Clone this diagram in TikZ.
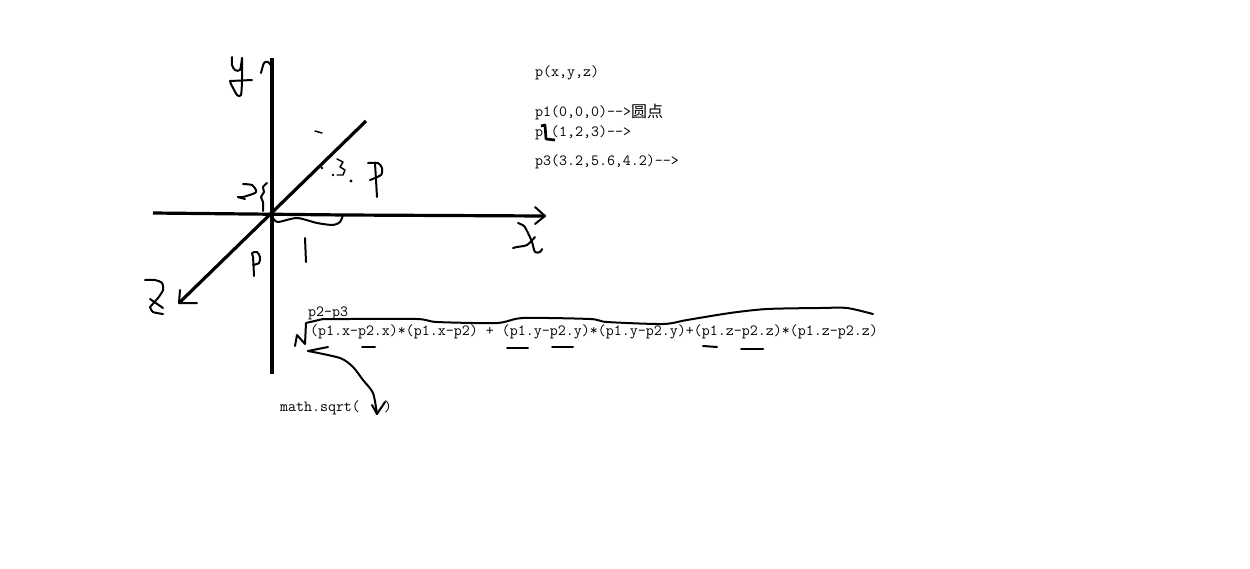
\documentclass[tikz,border=0pt]{standalone}
\usepackage{fontspec}
\newfontfamily\cjk{Noto Sans CJK SC}
\tikzset{
  txt/.style={anchor=base west,inner sep=0pt,outer sep=0pt,font=\fontsize{11.65}{13}\selectfont\ttfamily,text=black},
  axisline/.style={draw=black,line width=2.4pt},
  hand/.style={draw=black,line width=1.5pt,line join=round,line cap=round},
  fine/.style={draw=black,line width=1.1pt,line join=round,line cap=round},
  wob/.style={smooth,tension=0.45},
}
\begin{document}
\begin{tikzpicture}[x=0.75pt,y=-0.75pt]
\useasboundingbox[fill=white] (0,0) rectangle (1250,568);
% axes
\coordinate (ytop) at (272,58);
\coordinate (ybot) at (272,374);
\coordinate (xl) at (153,213);
\coordinate (xm) at (345,215);
\coordinate (xr) at (545,216);
\coordinate (ztop) at (366,121);
\coordinate (ztip) at (179,303);
\draw[axisline] (ytop) -- (ybot);
\draw[axisline] (xl) -- (xm) -- (xr);
\draw[axisline] (ztop) -- (ztip);
% arrowheads of axes
\draw[hand] plot[wob] coordinates {(261,73) (264,63) (268,62) (273,68)};
\draw[hand] (535,207) -- (xr) -- (535,224);
\draw[hand] (180,290) -- (ztip) -- (197,303);
% letter y
\draw[hand] plot[wob] coordinates {(232,57) (232,65) (235,70) (240,70) (242,58)};
\draw[hand] plot[wob] coordinates {(242,58) (242,80) (241,95) (237,95) (231,84)};
\draw[hand] (231,84) -- (230,81) -- (252,80);
% letter x
\draw[hand] plot[wob] coordinates {(518,223) (524,226) (528,233) (532,242) (535,252) (540,252) (542,249)};
\draw[hand] plot[wob] coordinates {(513,248) (517,247) (527,245) (535,237)};
% letter z
\draw[hand] plot[wob] coordinates {(145,280) (155,280) (162,283) (163,290) (158,298) (150,307)};
\draw[hand] plot[wob] coordinates {(150,307) (153,312) (163,314)};
\draw[hand] (150,299) -- (163,308);
% braces and marks on axes
\draw[hand] plot[wob] coordinates {(273,218) (278,222) (297,218) (317,223) (333,225) (340,222) (343,215)};
\draw[hand] (305,238) -- (306,262);
\draw[hand] plot[wob] coordinates {(254,276) (253,257) (252,253) (257,252) (260,257) (259,263) (253,265)};
\draw[hand] (377,197) -- (375,163);
\draw[hand] plot[wob] coordinates {(368,163) (378,163) (382,168) (381,175) (370,180)};
\draw[hand] plot[wob] coordinates {(243,184) (252,185) (256,190) (255,193) (243,197) (238,197)};
\draw[hand] (238,197) -- (245,199);
\draw[hand] plot[wob] coordinates {(267,183) (263,187) (264,192) (261,197) (263,202) (263,211)};
\draw[fine] (337,159) -- (343,162) -- (340,167) -- (345,170) -- (343,175) -- (337,175);
\fill (322,168) circle (1.3);
\fill (333,175) circle (1.3);
\fill (351,181) circle (1.6);
\draw[fine] (315,131) -- (322,133);
% texts
\node[txt] (t0) at (535,76) {p(x,y,z)};
\node[txt] (t1) at (535,116) {p1(0,0,0)-{}->};
\node[txt,font=\fontsize{12}{14}\selectfont\cjk] (t1b) at (631,117) {圆点};
\node[txt] (t2) at (535,136) {p\ (1,2,3)-{}->};
\node[txt] (t3) at (535,165) {p3(3.2,5.6,4.2)-{}->};
\node[txt] (t4) at (308,316) {p2-p3};
\node[txt] (t5) at (310,335) {(p1.x-p2.x)*(p1.x-p2) + (p1.y-p2.y)*(p1.y-p2.y)+(p1.z-p2.z)*(p1.z-p2.z)};
\node[txt] (t6) at (280,411) {math.sqrt(\ \ \ )};
% mark over p2
\draw[draw=black,line width=2pt,line join=round] (541,126) -- (545,125) -- (546,139) -- (555,140);
% root sign
\draw[hand] (295,346) -- (297,335) -- (305,344) -- (306,323) -- (323,319);
\draw[hand] plot[wob] coordinates {(323,319) (347,319) (417,319) (437,322) (497,323) (523,318) (590,319) (607,322) (663,324) (687,320) (730,313) (767,309) (820,308) (847,308) (873,314)};
% underlines
\draw[hand] (362,347) -- (375,347);
\draw[hand] (507,348) -- (528,348);
\draw[hand] (552,347) -- (573,347);
\draw[hand] (703,346) -- (717,347);
\draw[hand] (741,349) -- (763,349);
% hand arrow from root to math.sqrt
\coordinate (ra) at (308,351);
\coordinate (rb) at (377,414);
\draw[hand] (ra) -- (328,347);
\draw[hand] plot[wob] coordinates {(308,351) (340,358) (353,367) (363,380) (373,393) (377,414)};
\draw[hand] (372,405) -- (rb) -- (385,402);
\end{tikzpicture}
\end{document}
